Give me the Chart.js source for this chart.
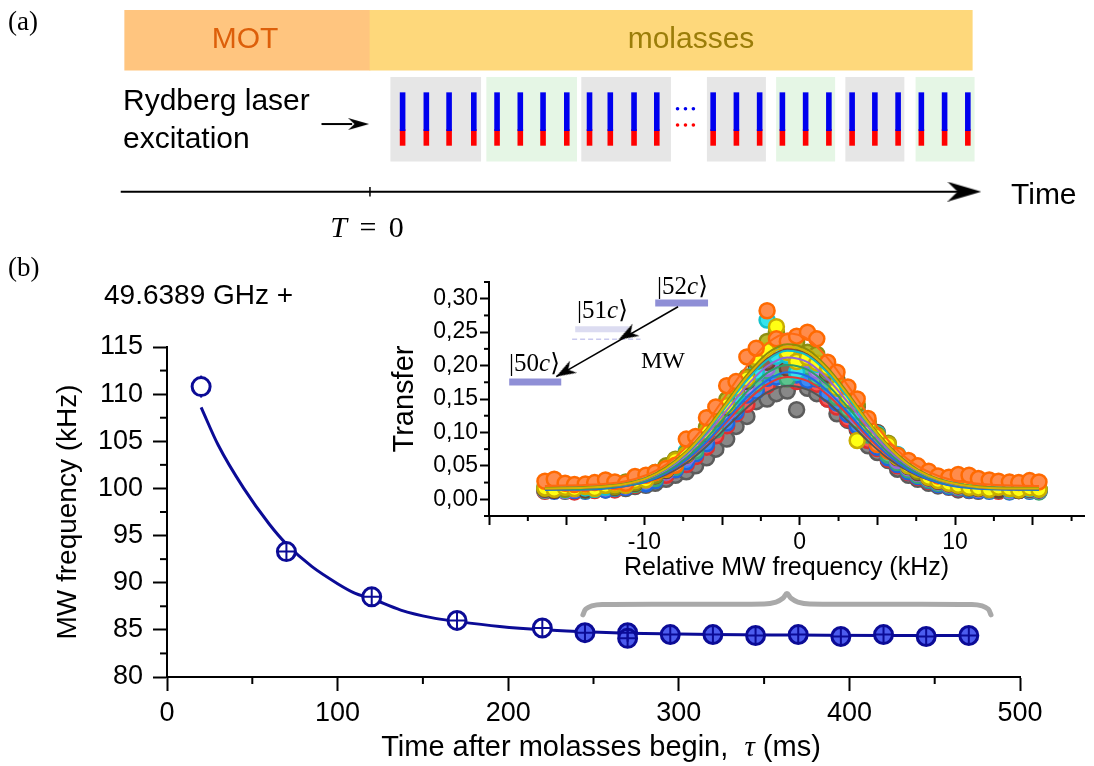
<!DOCTYPE html>
<html lang="en">
<head>
<meta charset="UTF-8">
<title>MW transition frequency after molasses</title>
<script src="https://cdn.jsdelivr.net/npm/chart.js"></script>
<style>
  body { margin: 0; background: #fff; font-family: "Liberation Sans", Arial, sans-serif; }
  #page { position: relative; width: 1094px; height: 766px; overflow: hidden; }
  canvas { position: absolute; }
  .lbl { position: absolute; line-height: 1; white-space: nowrap; color: #000; }
  .serif { font-family: "Liberation Serif", "DejaVu Serif", serif; }
  .c { transform: translateX(-50%); }
</style>
</head>
<body>
<div id="page">
  <canvas id="timing" style="left:0;top:0" width="1094" height="250"></canvas>
  <canvas id="main" style="left:0;top:250px" width="1094" height="516"></canvas>
  <canvas id="inset" style="left:380px;top:265px" width="714" height="325"></canvas>

  <div class="lbl serif" style="left:8px;top:8px;font-size:27px">(a)</div>
  <div class="lbl c" style="left:245px;top:23px;font-size:30px;color:#dd5f0a">MOT</div>
  <div class="lbl c" style="left:691px;top:23px;font-size:30px;color:#9b7d09">molasses</div>
  <div class="lbl" style="left:123px;top:85px;font-size:30px">Rydberg laser</div>
  <div class="lbl" style="left:123px;top:123px;font-size:30px">excitation</div>
  <div class="lbl" style="left:1011px;top:179px;font-size:30px">Time</div>
  <div class="lbl serif c" style="left:367px;top:212px;font-size:30px;word-spacing:5px"><i>T</i> = 0</div>

  <div class="lbl serif" style="left:8px;top:254px;font-size:27px">(b)</div>
  <div class="lbl" style="left:104px;top:281px;font-size:28px">49.6389 GHz +</div>
  <div class="lbl c" style="left:601px;top:732px;font-size:29px">Time after molasses begin, &nbsp;<i class="serif">τ</i> (ms)</div>

  <div class="lbl serif" style="left:657px;top:273px;font-size:25px">|52<i>c</i>⟩</div>
  <div class="lbl serif" style="left:577px;top:297px;font-size:25px">|51<i>c</i>⟩</div>
  <div class="lbl serif" style="left:509px;top:350px;font-size:25px">|50<i>c</i>⟩</div>
  <div class="lbl serif" style="left:641px;top:348px;font-size:24px">MW</div>
</div>

<script>
  // ---- (a) timing scheme, schematic time units (T = 0 at molasses start)
  const phaseNames = ['MOT', 'molasses'];
  const phaseStart = [-248, 0];
  const phaseEnd = [0, 609];
  const groupStart = [21, 118, 214, 341, 411, 481, 552];
  const groupEnd = [112, 209, 304, 400, 470, 540, 611];
  const groupKind = ['gray', 'green', 'gray', 'gray', 'green', 'gray', 'green'];
  const pulseTimes = [33, 57, 80, 105, 128.5, 152, 175, 199, 222, 243, 267, 290,
                      347, 370.5, 394, 417, 440.5, 464, 487.5, 510.5, 534, 557.5, 581, 604.5];
  const gapDots = [311, 319, 327];

  // ---- (b) main panel
  const tauMs = [20, 70, 120, 170, 220, 245, 270, 270, 295, 320, 345, 370, 395, 420, 445, 470];
  const mwKHz = [110.8, 93.3, 88.5, 86.0, 85.2, 84.7, 84.7, 84.1, 84.5, 84.5, 84.4, 84.5, 84.3, 84.5, 84.3, 84.4];
  const hollowCount = 5;
  const fitTau = [20, 30, 45, 60, 70, 85, 100, 110, 120, 137, 155, 170, 195, 220, 245, 270, 320, 370, 420, 470];
  const fitKHz = [108.6, 104.6, 100.0, 96.2, 94.1, 91.7, 89.9, 88.9, 88.3, 87.1, 86.3, 85.9, 85.35, 85.0, 84.8, 84.65, 84.5, 84.45, 84.4, 84.4];
  const braceTau = [243.8, 245.5, 249, 255, 350, 357, 361, 363.4, 365.8, 369.8, 376.8, 471.8, 477.8, 481.3, 483];
  const braceKHz = [86.6, 87.2, 87.55, 87.7, 87.75, 87.95, 88.35, 88.85, 88.35, 87.95, 87.75, 87.7, 87.55, 87.2, 86.6];

  // ---- inset: transfer spectra
  const freqKHz = [-16.4,-15.8,-15.1,-14.5,-13.8,-13.2,-12.5,-11.9,-11.2,-10.6,-9.9,-9.3,-8.6,-8.0,-7.3,-6.7,-6.0,-5.4,-4.7,-4.1,
                   -3.4,-2.8,-2.1,-1.5,-0.8,-0.2,0.5,1.1,1.8,2.4,3.1,3.7,4.4,5.0,5.7,6.3,7.0,7.6,8.3,8.9,
                   9.6,10.2,10.9,11.5,12.2,12.8,13.5,14.1,14.8,15.4];
  const fitFreq = [-16.4,-13.2,-11.2,-9.9,-8.6,-7.3,-6.0,-4.7,-3.4,-2.1,-0.8,0.5,1.8,3.1,4.4,5.7,7.0,8.3,9.6,12.2,15.4];
  const transferTicks = [0, 0.05, 0.10, 0.15, 0.20, 0.25, 0.30];

  const transferGray = [0.013,0.014,0.012,0.016,0.013,0.015,0.014,0.017,0.016,0.019,0.021,0.024,0.030,0.036,0.041,0.050,0.062,0.075,0.090,0.109,
    0.124,0.146,0.150,0.158,0.162,0.134,0.166,0.158,0.150,0.128,0.118,0.104,0.080,0.070,0.058,0.045,0.036,0.030,0.024,0.020,
    0.018,0.014,0.013,0.012,0.014,0.013,0.012,0.014,0.013,0.012];
  const transferRed = [0.012,0.016,0.013,0.011,0.015,0.013,0.016,0.014,0.019,0.021,0.025,0.030,0.036,0.044,0.052,0.064,0.078,0.095,0.110,0.128,
    0.142,0.163,0.170,0.184,0.180,0.176,0.185,0.172,0.150,0.138,0.120,0.107,0.088,0.076,0.060,0.050,0.040,0.033,0.027,0.022,
    0.019,0.016,0.014,0.013,0.015,0.012,0.014,0.013,0.016,0.014];
  const transferBlue = [0.015,0.012,0.016,0.013,0.012,0.017,0.014,0.016,0.018,0.024,0.023,0.028,0.041,0.044,0.056,0.068,0.083,0.104,0.114,0.131,
    0.156,0.162,0.181,0.183,0.194,0.186,0.178,0.180,0.158,0.144,0.127,0.110,0.099,0.078,0.062,0.052,0.041,0.034,0.028,0.022,
    0.019,0.017,0.014,0.013,0.012,0.014,0.011,0.013,0.012,0.013];
  const transferGreen = [0.013,0.016,0.014,0.017,0.013,0.015,0.019,0.017,0.023,0.022,0.030,0.031,0.044,0.048,0.065,0.072,0.094,0.104,0.130,0.140,
    0.165,0.172,0.192,0.194,0.180,0.203,0.198,0.182,0.175,0.152,0.134,0.118,0.096,0.083,0.066,0.055,0.044,0.036,0.029,0.024,
    0.021,0.018,0.016,0.015,0.013,0.014,0.012,0.014,0.013,0.011];
  const transferPurple = [0.014,0.017,0.013,0.015,0.016,0.019,0.017,0.022,0.020,0.027,0.028,0.037,0.041,0.055,0.063,0.082,0.094,0.116,0.130,0.154,
    0.167,0.188,0.196,0.210,0.206,0.214,0.208,0.192,0.184,0.160,0.148,0.124,0.104,0.088,0.078,0.058,0.047,0.039,0.031,0.026,
    0.022,0.019,0.017,0.015,0.014,0.016,0.013,0.015,0.014,0.013];
  const transferBrown = [0.015,0.013,0.018,0.016,0.014,0.017,0.021,0.018,0.021,0.024,0.033,0.035,0.043,0.058,0.066,0.086,0.098,0.122,0.137,0.162,
    0.176,0.199,0.205,0.222,0.196,0.226,0.213,0.210,0.186,0.178,0.149,0.138,0.116,0.100,0.075,0.062,0.049,0.040,0.032,0.027,
    0.023,0.020,0.017,0.016,0.015,0.014,0.016,0.013,0.015,0.014];
  const transferCyan = [0.019,0.016,0.014,0.020,0.017,0.015,0.018,0.023,0.022,0.029,0.030,0.040,0.048,0.053,0.072,0.080,0.104,0.115,0.143,0.155,
    0.182,0.190,0.268,0.214,0.215,0.190,0.213,0.202,0.192,0.170,0.155,0.131,0.110,0.098,0.080,0.067,0.050,0.045,0.036,0.031,
    0.027,0.024,0.022,0.018,0.016,0.019,0.015,0.018,0.016,0.015];
  const transferOlive = [0.016,0.019,0.015,0.017,0.020,0.018,0.021,0.019,0.026,0.025,0.034,0.036,0.050,0.060,0.069,0.089,0.108,0.120,0.149,0.170,
    0.183,0.206,0.236,0.250,0.228,0.235,0.220,0.217,0.193,0.176,0.150,0.142,0.114,0.096,0.084,0.064,0.057,0.042,0.038,0.033,
    0.028,0.025,0.022,0.020,0.024,0.019,0.016,0.018,0.019,0.016];
  const transferYellow = [0.017,0.015,0.018,0.016,0.019,0.016,0.021,0.022,0.021,0.028,0.029,0.040,0.045,0.058,0.067,0.088,0.100,0.125,0.140,0.166,
    0.180,0.212,0.222,0.258,0.220,0.206,0.212,0.204,0.197,0.166,0.150,0.088,0.112,0.094,0.082,0.063,0.050,0.045,0.033,0.028,
    0.024,0.021,0.018,0.017,0.015,0.018,0.016,0.014,0.017,0.015];
  const transferOrange = [0.027,0.030,0.024,0.022,0.023,0.025,0.029,0.026,0.024,0.034,0.036,0.040,0.046,0.051,0.090,0.094,0.122,0.138,0.170,0.176,
    0.213,0.226,0.282,0.240,0.236,0.244,0.250,0.240,0.205,0.190,0.168,0.150,0.121,0.082,0.072,0.066,0.058,0.050,0.042,0.035,
    0.033,0.037,0.036,0.031,0.029,0.027,0.026,0.025,0.028,0.026];

  const fitGray   = [0.015,0.016,0.020,0.026,0.037,0.054,0.079,0.108,0.137,0.160,0.170,0.164,0.145,0.117,0.087,0.061,0.042,0.029,0.022,0.016,0.015];
  const fitRed    = [0.015,0.016,0.020,0.027,0.039,0.058,0.084,0.116,0.147,0.172,0.183,0.177,0.156,0.126,0.093,0.065,0.044,0.030,0.022,0.016,0.015];
  const fitBlue   = [0.014,0.015,0.020,0.026,0.039,0.059,0.086,0.119,0.153,0.178,0.190,0.184,0.162,0.130,0.096,0.066,0.044,0.030,0.021,0.015,0.014];
  const fitGreen  = [0.015,0.016,0.021,0.028,0.041,0.062,0.091,0.126,0.161,0.189,0.201,0.194,0.171,0.138,0.102,0.070,0.047,0.032,0.023,0.016,0.015];
  const fitPurple = [0.016,0.018,0.022,0.030,0.044,0.066,0.097,0.133,0.170,0.199,0.212,0.205,0.180,0.145,0.108,0.074,0.050,0.034,0.024,0.017,0.016];
  const fitBrown  = [0.016,0.018,0.023,0.031,0.046,0.069,0.101,0.141,0.180,0.210,0.224,0.217,0.191,0.153,0.113,0.078,0.052,0.035,0.025,0.017,0.016];
  const fitCyan   = [0.017,0.019,0.024,0.032,0.046,0.069,0.101,0.140,0.178,0.208,0.222,0.215,0.189,0.152,0.113,0.078,0.052,0.035,0.026,0.018,0.017];
  const fitOlive  = [0.017,0.019,0.024,0.032,0.048,0.072,0.105,0.146,0.186,0.218,0.232,0.224,0.197,0.159,0.117,0.081,0.054,0.036,0.026,0.018,0.017];
  const fitYellow = [0.016,0.018,0.023,0.031,0.046,0.070,0.103,0.143,0.183,0.214,0.228,0.220,0.194,0.156,0.115,0.079,0.052,0.035,0.025,0.017,0.016];
  const fitOrange = [0.020,0.022,0.027,0.036,0.052,0.078,0.114,0.157,0.199,0.233,0.248,0.240,0.211,0.170,0.127,0.088,0.059,0.041,0.030,0.022,0.020];

  // level scheme in the inset (kHz / transfer units)
  const levelX0 = [-18.7, -14.45, -9.3];
  const levelX1 = [-15.35, -11.0, -5.9];
  const levelY = [0.1755, 0.2543, 0.2936];
  const virtualX = [-14.65, -10.25];
  const virtualY = 0.2393;
  const mwArrowX = [-7.83, -15.67];
  const mwArrowY = [0.288, 0.1836];
  const headX = [-11.1, -15.12];
  const headY = [0.2461, 0.1909];

  const pts = (xs, ys) => xs.map((x, i) => ({ x, y: Array.isArray(ys) ? ys[i] : ys }));
  const FONT = '"Liberation Sans", Arial, sans-serif';

  function arrowHead(len, half, color) {
    const c = document.createElement('canvas');
    c.width = len; c.height = half * 2;
    const g = c.getContext('2d');
    g.fillStyle = color;
    g.beginPath();
    g.moveTo(len, half); g.lineTo(0, 0); g.lineTo(len * 0.3, half); g.lineTo(0, half * 2);
    g.closePath(); g.fill();
    return c;
  }

  // short minor ticks between the labelled ones
  const minorTicks = {
    id: 'minorTicks',
    afterDraw(chart, args, opts) {
      const ctx = chart.ctx;
      ctx.save();
      ctx.strokeStyle = '#000';
      ctx.lineWidth = opts.width || 2;
      for (const id of Object.keys(opts.axes || {})) {
        const s = chart.scales[id], o = opts.axes[id];
        const first = Math.ceil(s.min / o.step - 1e-9);
        for (let k = first; k * o.step <= s.max + 1e-9; k++) {
          const v = k * o.step;
          const r = v / o.major;
          if (Math.abs(r - Math.round(r)) < 1e-6) continue;
          const p = s.getPixelForValue(v);
          ctx.beginPath();
          if (s.isHorizontal()) { ctx.moveTo(p, s.top); ctx.lineTo(p, s.top + o.len); }
          else { ctx.moveTo(s.right, p); ctx.lineTo(s.right - o.len, p); }
          ctx.stroke();
        }
      }
      ctx.restore();
    }
  };

  const common = {
    responsive: false, animation: false, events: [],
    plugins: { legend: { display: false }, tooltip: { enabled: false } }
  };

  // ---------------- (a) timing scheme ----------------
  const pulseW = 2.5;
  new Chart(document.getElementById('timing'), {
    type: 'bar',
    data: {
      datasets: [
        { type: 'line', indexAxis: 'x', data: [{ x: 601, y: 195 }], showLine: false,
          pointStyle: arrowHead(34, 10, '#000'), pointRadius: 5 },
        { type: 'line', indexAxis: 'x', data: [{ x: -252, y: 195 }, { x: 602, y: 195 }],
          borderColor: '#000', borderWidth: 2, pointRadius: 0 },
        { type: 'line', indexAxis: 'x', data: [{ x: 0, y: 190 }, { x: 0, y: 200 }],
          borderColor: '#000', borderWidth: 1.5, pointRadius: 0 },
        { type: 'line', indexAxis: 'x', data: [{ x: -11.5, y: 124 }], showLine: false,
          pointStyle: arrowHead(21, 6, '#000'), pointRadius: 5 },
        { type: 'line', indexAxis: 'x', data: [{ x: -49, y: 124 }, { x: -18, y: 124 }],
          borderColor: '#000', borderWidth: 2, pointRadius: 0 },
        { type: 'line', indexAxis: 'x', data: pts(gapDots, 108), showLine: false,
          pointRadius: 1.8, backgroundColor: '#0000ee', borderWidth: 0 },
        { type: 'line', indexAxis: 'x', data: pts(gapDots, 125), showLine: false,
          pointRadius: 1.8, backgroundColor: '#ff0000', borderWidth: 0 },
        { indexAxis: 'y', data: pulseTimes.map(t => ({ x: [t - pulseW, t + pulseW], y: 111 })),
          backgroundColor: '#0000ee', barThickness: 38 },
        { indexAxis: 'y', data: pulseTimes.map(t => ({ x: [t - pulseW, t + pulseW], y: 138 })),
          backgroundColor: '#ff0000', barThickness: 16 },
        { indexAxis: 'y', data: groupStart.map((s, i) => ({ x: [s, groupEnd[i]], y: 119 })),
          backgroundColor: groupKind.map(k => k === 'gray' ? '#e6e6e6' : '#e5f6e5'), barThickness: 84 },
        { indexAxis: 'y', label: 'phases', data: phaseNames.map((n, i) => ({ x: [phaseStart[i], phaseEnd[i]], y: 36 })),
          backgroundColor: ['#ffc57f', '#fed87b'], barThickness: 60 }
      ]
    },
    options: Object.assign({}, common, {
      layout: { padding: 0 },
      datasets: { bar: { grouped: false, borderWidth: 0 } },
      scales: {
        x: { type: 'linear', min: -368, max: 726, display: false, offset: false, grid: { offset: false } },
        y: { type: 'linear', min: 0, max: 250, reverse: true, display: false, offset: false, grid: { offset: false } }
      }
    })
  });

  // ---------------- (b) main chart ----------------
  const NAVY = '#0b0b96';
  const fixW = w => s => { s.width = w; };
  const fixH = h => s => { s.height = h; };
  new Chart(document.getElementById('main'), {
    type: 'line',
    data: {
      datasets: [
        { data: pts(tauMs, mwKHz), showLine: false, pointStyle: 'cross',
          pointRadius: tauMs.map((t, i) => i === 0 ? 0 : 9), borderColor: NAVY, borderWidth: 2 },
        { data: pts(tauMs.slice(0, hollowCount), mwKHz.slice(0, hollowCount)), showLine: false,
          pointRadius: 9, pointBackgroundColor: '#fff', pointBorderColor: NAVY, pointBorderWidth: 3 },
        { data: pts(tauMs.slice(hollowCount), mwKHz.slice(hollowCount)), showLine: false,
          pointRadius: 9, pointBackgroundColor: '#4c5cee', pointBorderColor: NAVY, pointBorderWidth: 3 },
        { data: pts(tauMs.slice(0, 1), mwKHz.slice(0, 1)), showLine: false, pointStyle: 'line',
          pointRotation: 90, pointRadius: 11, borderColor: NAVY, borderWidth: 2 },
        { data: pts(fitTau, fitKHz), borderColor: NAVY, borderWidth: 3, pointRadius: 0,
          cubicInterpolationMode: 'monotone' },
        { data: pts(braceTau, braceKHz), borderColor: '#a9a9a9', borderWidth: 5, pointRadius: 0,
          tension: 0.4, borderCapStyle: 'round' }
      ]
    },
    options: Object.assign({}, common, {
      layout: { padding: { top: 97, right: 74, left: 0, bottom: 0 } },
      scales: {
        x: {
          type: 'linear', min: 0, max: 500, afterFit: fixH(89),
          ticks: { stepSize: 100, color: '#000', font: { family: FONT, size: 27 }, padding: 6, maxRotation: 0, autoSkip: false },
          grid: { drawOnChartArea: false, tickLength: 14, tickWidth: 2, tickColor: '#000' },
          border: { color: '#000', width: 2 }
        },
        y: {
          type: 'linear', min: 80, max: 115, afterFit: fixW(167),
          ticks: { stepSize: 5, color: '#000', font: { family: FONT, size: 27 }, padding: 10 },
          grid: { drawOnChartArea: false, tickLength: 14, tickWidth: 2, tickColor: '#000' },
          border: { color: '#000', width: 2 },
          title: { display: true, text: 'MW frequency (kHz)', color: '#000',
                   font: { family: FONT, size: 28 }, padding: { top: 51, bottom: 0 } }
        }
      },
      plugins: Object.assign({}, common.plugins, {
        minorTicks: { width: 2, axes: { x: { step: 50, major: 100, len: 7 }, y: { step: 2.5, major: 5, len: 7 } } }
      })
    }),
    plugins: [minorTicks]
  });

  // ---------------- inset ----------------
  const series = [
    { d: transferOrange, f: fitOrange, line: '#ff6a10', fill: '#ff8c4c', edge: '#ff6a00' },
    { d: transferYellow, f: fitYellow, line: '#d8b400', fill: '#ffff14', edge: '#c9ae00' },
    { d: transferOlive,  f: fitOlive,  line: '#8c8c0a', fill: '#b9b92c', edge: '#8e8e10' },
    { d: transferCyan,   f: fitCyan,   line: '#11bdc8', fill: '#35e3ec', edge: '#12c3cc' },
    { d: transferBrown,  f: fitBrown,  line: '#7a4b3c', fill: '#8f6453', edge: '#6e4434' },
    { d: transferPurple, f: fitPurple, line: '#9467d4', fill: '#b08ae6', edge: '#946bd9' },
    { d: transferGreen,  f: fitGreen,  line: '#2e9e6a', fill: '#5cc48e', edge: '#3aa774' },
    { d: transferBlue,   f: fitBlue,   line: '#1e6ee6', fill: '#3d8af5', edge: '#1f66dd' },
    { d: transferRed,    f: fitRed,    line: '#e53935', fill: '#f25a5a', edge: '#e03030' },
    { d: transferGray,   f: fitGray,   line: '#555555', fill: '#888888', edge: '#5c5c5c' }
  ];
  const LEVEL = '#8f8fd6';
  const insetSets = [
    { data: pts(headX, headY), showLine: false, pointStyle: arrowHead(20, 7, '#000'),
      pointRotation: 150.4, pointRadius: 5 },
    { data: pts(mwArrowX, mwArrowY), borderColor: '#000', borderWidth: 1.5, pointRadius: 0 },
    { data: pts(virtualX, virtualY), borderColor: '#c9c9ee', borderWidth: 1.5, borderDash: [5, 3], pointRadius: 0 }
  ];
  levelX0.forEach((x0, i) => insetSets.push({
    data: [{ x: x0, y: levelY[i] }, { x: levelX1[i], y: levelY[i] }],
    borderColor: i === 1 ? '#dcdcf1' : LEVEL, borderWidth: i === 1 ? 6 : 7, borderCapStyle: 'butt', pointRadius: 0
  }));
  series.forEach(s => insetSets.push({
    data: pts(fitFreq, s.f), borderColor: s.line, borderWidth: 2, pointRadius: 0, cubicInterpolationMode: 'monotone'
  }));
  series.forEach(s => insetSets.push({
    data: pts(freqKHz, s.d), showLine: false, pointRadius: 7.5,
    pointBackgroundColor: s.fill, pointBorderColor: s.edge, pointBorderWidth: 2.5
  }));

  new Chart(document.getElementById('inset'), {
    type: 'line',
    data: { datasets: insetSets },
    options: Object.assign({}, common, {
      layout: { padding: { top: 17, right: 4, left: 0, bottom: 0 } },
      scales: {
        x: {
          type: 'linear', min: -20, max: 18.3, afterFit: fixH(74),
          ticks: { stepSize: 5, includeBounds: false, autoSkip: false, maxRotation: 0, color: '#000',
                   font: { family: FONT, size: 23 }, padding: 4,
                   callback: v => (v % 10 === 0 && Math.abs(v) < 20) ? String(v) : '' },
          grid: { drawOnChartArea: false, tickLength: 9, tickWidth: 2, tickColor: '#000' },
          border: { color: '#000', width: 2 },
          title: { display: true, text: 'Relative MW frequency (kHz)', color: '#000',
                   font: { family: FONT, size: 25 }, padding: { top: 0, bottom: 7 } }
        },
        y: {
          type: 'linear', min: -0.025, max: 0.325, afterFit: fixW(109),
          afterBuildTicks: s => { s.ticks = transferTicks.map(v => ({ value: v })); },
          ticks: { color: '#000', font: { family: FONT, size: 23 }, padding: 2,
                   callback: v => v.toFixed(2).replace('.', ',') },
          grid: { drawOnChartArea: false, tickLength: 9, tickWidth: 2, tickColor: '#000' },
          border: { color: '#000', width: 2 },
          title: { display: true, text: 'Transfer', color: '#000',
                   font: { family: FONT, size: 29 }, padding: { top: 8, bottom: 0 } }
        }
      },
      plugins: Object.assign({}, common.plugins, {
        minorTicks: { width: 2, axes: { x: { step: 2.5, major: 5, len: 5 }, y: { step: 0.025, major: 0.05, len: 5 } } }
      })
    }),
    plugins: [minorTicks]
  });
</script>
</body>
</html>
